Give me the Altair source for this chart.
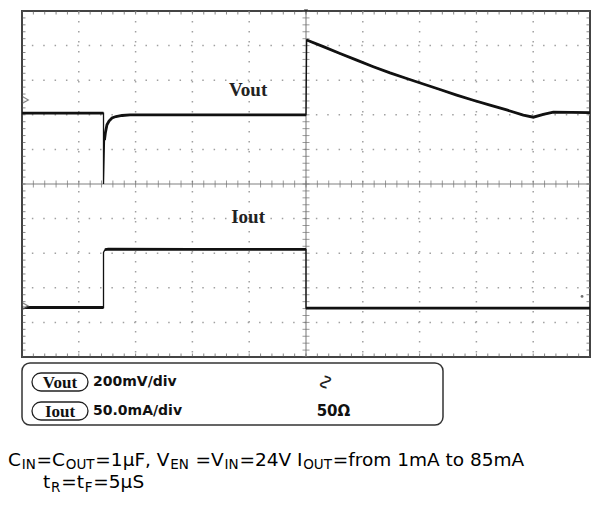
import altair as alt
import pandas as pd
import numpy as np

# ---------------- data (oscilloscope divisions: x 0..10, y 0..10 from bottom) -------------
vout_t = [0.0, 1.435, 1.435, 1.452, 1.470, 1.496, 1.532, 1.585, 1.655, 1.761, 1.901, 3.0, 5.0,
          5.012, 5.305, 5.599, 5.893, 6.185, 6.479, 6.773, 7.065, 7.359, 7.653, 7.946, 8.239,
          8.533, 8.826, 9.002, 9.178, 9.354, 10.0]
vout_v = [7.05, 7.05, 5.00, 6.27, 6.50, 6.71, 6.82, 6.91, 6.95, 6.98, 7.00, 7.00, 7.00,
          9.16, 8.97, 8.77, 8.58, 8.39, 8.21, 8.05, 7.89, 7.73, 7.57, 7.42, 7.28,
          7.14, 6.99, 6.93, 7.01, 7.08, 7.06]
vout_seg = ["a", "a", ""] + ["b"] * 10 + ["c"] * 18

iout_t = [0.0, 1.435, 1.435, 1.46, 1.52, 3.0, 5.0, 5.0, 10.0]
iout_v = [1.43, 1.43, 3.02, 3.10, 3.12, 3.11, 3.11, 1.41, 1.41]
iout_seg = ["a", "a", "", "b", "b", "b", "b", "c", "c"]

grid_lines = [1, 2, 3, 4, 6, 7, 8, 9]
labels = ["Vout", "Iout"]
label_t = [3.98, 3.98]
label_v = [7.72, 4.05]
markers_v = [7.43, 1.47]

box_rows = [("Vout", "200mV/div", "\u223f"), ("Iout", "50.0mA/div", "50\u03a9")]

caption1 = [("C", 0), ("IN", 1), ("=C", 0), ("OUT", 1), ("=1\u00b5F, V", 0), ("EN", 1),
            (" =V", 0), ("IN", 1), ("=24V I", 0), ("OUT", 1), ("=from 1mA to 85mA", 0)]
caption2 = [("t", 0), ("R", 1), ("=t", 0), ("F", 1), ("=5\u00b5S", 0)]

# ---------------- tables ----------------
rows = []
for i, (t, v, s) in enumerate(zip(vout_t, vout_v, vout_seg)):
    rows.append({"t": t, "v": v, "ch": "Vout", "i": i, "seg": ("V" + s) if s else ""})
for i, (t, v, s) in enumerate(zip(iout_t, iout_v, iout_seg)):
    rows.append({"t": t, "v": v, "ch": "Iout", "i": i, "seg": ("I" + s) if s else ""})
tr = pd.DataFrame(rows)
thick = tr[tr["seg"] != ""]

minor = pd.DataFrame({"m": np.round(np.arange(0, 10.001, 0.2), 3)})
gdf = pd.DataFrame({"g": grid_lines})

W = 568
H = 346

xs = alt.Scale(domain=[0, 10], nice=False, zero=False)
ys = alt.Scale(domain=[0, 10], nice=False, zero=False)

layers = []

# dotted grid
layers.append(alt.Chart(gdf).mark_rule(color="#a0a0a0", strokeWidth=1.5, strokeDash=[1.5, 8.5]).encode(
    x=alt.X("g:Q", scale=xs, axis=None)))
layers.append(alt.Chart(gdf).mark_rule(color="#a0a0a0", strokeWidth=1.5, strokeDash=[1.5, 9.86]).encode(
    y=alt.Y("g:Q", scale=ys, axis=None)))

# centre cross
cdf = pd.DataFrame({"c": [5]})
layers.append(alt.Chart(cdf).mark_rule(color="#808080", strokeWidth=1.1).encode(x=alt.X("c:Q", scale=xs, axis=None)))
layers.append(alt.Chart(cdf).mark_rule(color="#808080", strokeWidth=1.1).encode(y=alt.Y("c:Q", scale=ys, axis=None)))

# minor ticks on centre lines and frame
for yv in [5, 0, 10]:
    layers.append(alt.Chart(minor).mark_tick(orient="vertical", size=7, thickness=1,
                                             color="#707070" if yv == 5 else "#555", clip=True).encode(
        x=alt.X("m:Q", scale=xs, axis=None), y=alt.value(H - yv * H / 10)))
for xv in [5, 0, 10]:
    layers.append(alt.Chart(minor).mark_tick(orient="horizontal", size=7, thickness=1,
                                             color="#707070" if xv == 5 else "#555", clip=True).encode(
        y=alt.Y("m:Q", scale=ys, axis=None), x=alt.value(xv * W / 10)))

# traces
layers.append(alt.Chart(tr).mark_line(color="#111", strokeWidth=1.3).encode(
    x=alt.X("t:Q", scale=xs, axis=None), y=alt.Y("v:Q", scale=ys, axis=None),
    detail="ch:N", order="i:Q"))
layers.append(alt.Chart(thick).mark_line(color="#111", strokeWidth=2.8).encode(
    x=alt.X("t:Q", scale=xs, axis=None), y=alt.Y("v:Q", scale=ys, axis=None),
    detail="seg:N", order="i:Q"))

# channel labels
ldf = pd.DataFrame({"t": label_t, "v": label_v, "lab": labels})
layers.append(alt.Chart(ldf).mark_text(font="Liberation Serif", fontWeight="bold", fontSize=19,
                                       color="#222").encode(
    x=alt.X("t:Q", scale=xs, axis=None), y=alt.Y("v:Q", scale=ys, axis=None), text="lab:N"))

# ground markers
mdf = pd.DataFrame({"t": [0.06, 0.06], "v": markers_v})
layers.append(alt.Chart(mdf).mark_point(shape="triangle-right", size=45, filled=True, fill="white",
                                        stroke="#555", strokeWidth=1.2, clip=False).encode(
    x=alt.X("t:Q", scale=xs, axis=None), y=alt.Y("v:Q", scale=ys, axis=None)))
# trigger marker and small dot
layers.append(alt.Chart(pd.DataFrame({"t": [5.0], "v": [10.0]})).mark_point(
    shape="triangle-down", size=18, filled=True, color="#222").encode(
    x=alt.X("t:Q", scale=xs, axis=None), y=alt.Y("v:Q", scale=ys, axis=None)))
layers.append(alt.Chart(pd.DataFrame({"t": [9.86], "v": [1.75]})).mark_point(
    shape="circle", size=8, filled=True, color="#333").encode(
    x=alt.X("t:Q", scale=xs, axis=None), y=alt.Y("v:Q", scale=ys, axis=None)))

one = pd.DataFrame({"a": [0]})

# info box
layers.append(alt.Chart(one).mark_rect(fill="white", fillOpacity=0, stroke="#333", strokeWidth=1.5,
                                       cornerRadius=8).encode(
    x=alt.value(0), x2=alt.value(421), y=alt.value(352), y2=alt.value(414)))
row_y = [371, 400]
for (tag, scale_txt, extra), ry in zip(box_rows, row_y):
    layers.append(alt.Chart(one).mark_rect(fill="white", stroke="#222", strokeWidth=1.3,
                                           cornerRadius=9).encode(
        x=alt.value(10), x2=alt.value(66), y=alt.value(ry - 9), y2=alt.value(ry + 9)))
    layers.append(alt.Chart(one).mark_text(text=tag, font="Liberation Serif", fontWeight="bold",
                                           fontSize=17, color="#111", baseline="middle").encode(
        x=alt.value(38), y=alt.value(ry + 1)))
    layers.append(alt.Chart(one).mark_text(text=scale_txt, font="DejaVu Sans", fontWeight="bold",
                                           fontSize=14, color="#111", align="left",
                                           baseline="middle").encode(
        x=alt.value(71), y=alt.value(ry)))
    if extra == "\u223f":
        layers.append(alt.Chart(one).mark_text(text=extra, font="DejaVu Sans", fontSize=21,
                                               color="#222", angle=90, baseline="middle").encode(
            x=alt.value(303), y=alt.value(ry)))
    else:
        layers.append(alt.Chart(one).mark_text(text=extra, font="DejaVu Sans", fontWeight="bold",
                                               fontSize=15, color="#111", baseline="middle").encode(
            x=alt.value(311.5), y=alt.value(ry)))

# caption with subscripts
WID = {' ': .318, ',': .318, '=': .838, '0': .636, '1': .636, '2': .636, '4': .636, '5': .636,
       '8': .636, 'A': .684, 'C': .698, 'E': .632, 'F': .575, 'I': .295, 'N': .748, 'O': .787,
       'R': .695, 'S': .635, 'T': .611, 'U': .732, 'V': .684, 'a': .613, 'f': .352, 'm': .974,
       'o': .612, 'r': .411, 't': .392, '\u00b5': .636}


def place(segments, x0, base, sub_drop):
    x = x0
    for txt, sub in segments:
        fs = 13.5 if sub else 18.5
        lead = len(txt) - len(txt.lstrip(" "))
        x += sum(WID[c] for c in txt[:lead]) * fs
        body = txt.lstrip(" ")
        layers.append(alt.Chart(one).mark_text(text=body, font="DejaVu Sans", fontSize=fs,
                                               color="#000", align="left",
                                               baseline="alphabetic").encode(
            x=alt.value(x), y=alt.value(base + (sub_drop if sub else 0))))
        x += sum(WID.get(c, .6) for c in body) * fs + 0.8


place(caption1, -14, 455, 3)
place(caption2, 21, 477, 4)

chart = alt.layer(*layers).properties(
    width=W, height=H,
    padding={"left": 14, "top": 3, "right": 15, "bottom": 141},
    autosize=alt.AutoSizeParams(type="none"),
    background="white",
).configure_view(stroke="#444", strokeWidth=2)

chart.save("out.html", embed_options={"renderer": "svg", "actions": False})
